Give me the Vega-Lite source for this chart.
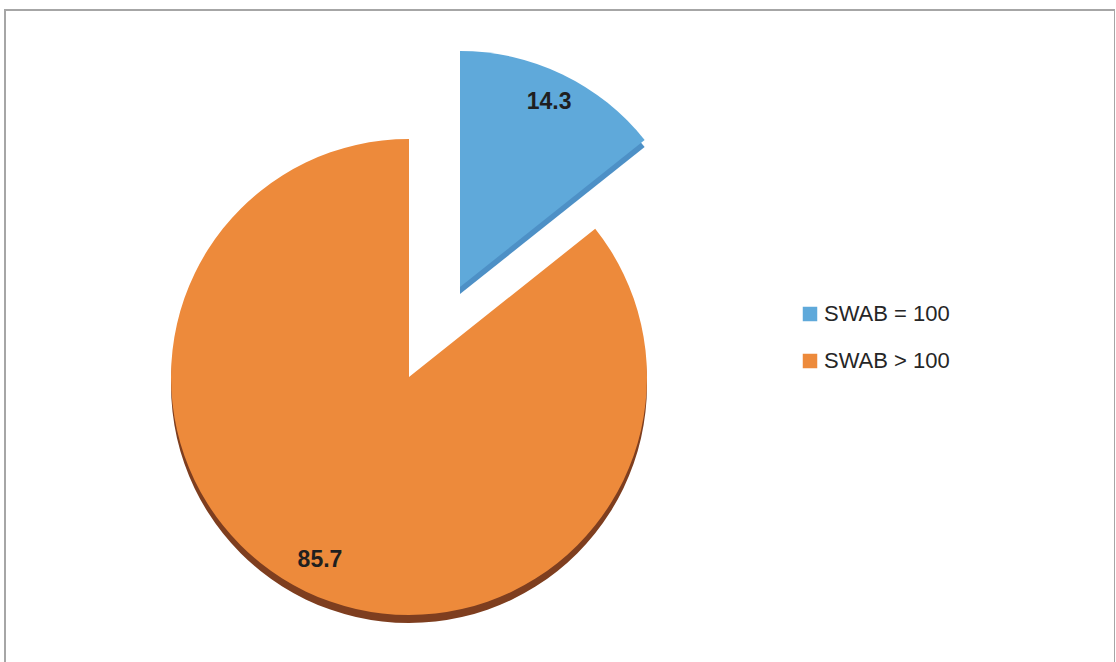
{
  "$schema": "https://vega.github.io/schema/vega-lite/v6.json",
  "width": 1110,
  "height": 660,
  "autosize": {"type": "none"},
  "padding": {"left": 5, "top": 10, "right": 0, "bottom": 0},
  "background": "white",
  "view": {"stroke": "#a6a6a6", "strokeWidth": 2, "fill": "white"},
  "config": {
    "view": {"stroke": "#a6a6a6", "strokeWidth": 2, "fill": "white"},
    "font": "Liberation Sans"
  },
  "data": {
    "values": [
      {"category": "SWAB = 100", "value": 14.3},
      {"category": "SWAB > 100", "value": 85.7}
    ]
  },
  "encoding": {
    "theta": {"field": "value", "type": "quantitative", "stack": true, "scale": {"domain": [0, 100]}},
    "order": {"field": "category", "sort": "ascending"}
  },
  "layer": [
    {
      "mark": {"type": "arc", "radius": 238, "xOffset": -151, "yOffset": 45, "fill": "#7e3e1f"},
      "encoding": {
        "opacity": {"condition": {"test": "datum.category === 'SWAB > 100'", "value": 1}, "value": 0}
      }
    },
    {
      "mark": {"type": "arc", "radius": 236, "xOffset": -100, "yOffset": -46, "fill": "#4d90c6"},
      "encoding": {
        "opacity": {"condition": {"test": "datum.category === 'SWAB = 100'", "value": 1}, "value": 0}
      }
    },
    {
      "mark": {"type": "arc", "radius": 238, "xOffset": -151, "yOffset": 37},
      "encoding": {
        "color": {
          "field": "category",
          "type": "nominal",
          "scale": {"domain": ["SWAB = 100", "SWAB > 100"], "range": ["#5fa9da", "#ed8a3b"]},
          "legend": {
            "title": null,
            "orient": "none",
            "legendX": 794,
            "legendY": 293,
            "symbolType": "square",
            "symbolSize": 210,
            "symbolStrokeWidth": 0,
            "labelFontSize": 22,
            "labelFont": "Liberation Sans",
            "labelColor": "#262626",
            "labelOffset": 3,
            "rowPadding": 25,
            "padding": 0
          }
        },
        "opacity": {"condition": {"test": "datum.category === 'SWAB > 100'", "value": 1}, "value": 0}
      }
    },
    {
      "mark": {"type": "arc", "radius": 236, "xOffset": -100, "yOffset": -53},
      "encoding": {
        "color": {"field": "category", "type": "nominal"},
        "opacity": {"condition": {"test": "datum.category === 'SWAB = 100'", "value": 1}, "value": 0}
      }
    },
    {
      "mark": {"type": "text", "radius": 205, "fontSize": 23, "fontWeight": "bold", "font": "Liberation Sans", "color": "#1f1f1f", "xOffset": -151, "yOffset": 35},
      "encoding": {
        "text": {"field": "value", "type": "quantitative", "format": ".1f"},
        "opacity": {"condition": {"test": "datum.category === 'SWAB > 100'", "value": 1}, "value": 0}
      }
    },
    {
      "mark": {"type": "text", "radius": 205, "fontSize": 23, "fontWeight": "bold", "font": "Liberation Sans", "color": "#1f1f1f", "xOffset": -100, "yOffset": -53},
      "encoding": {
        "text": {"field": "value", "type": "quantitative", "format": ".1f"},
        "opacity": {"condition": {"test": "datum.category === 'SWAB = 100'", "value": 1}, "value": 0}
      }
    }
  ]
}
